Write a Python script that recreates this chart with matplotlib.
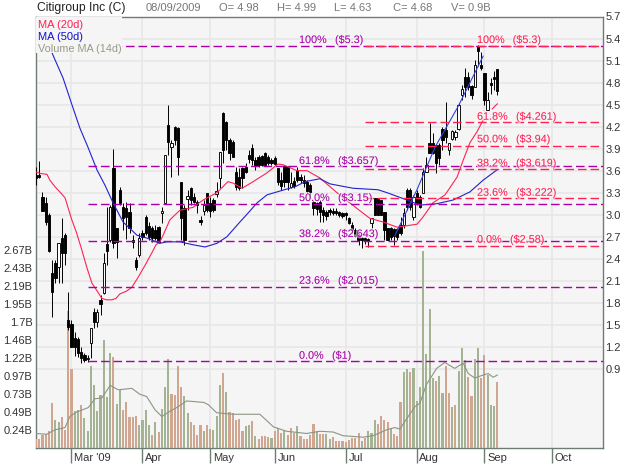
import numpy as np
import matplotlib
matplotlib.use('Agg')
import matplotlib.pyplot as plt
from matplotlib.patches import Rectangle
from matplotlib.transforms import ScaledTranslation
import matplotlib.patheffects as pe

plt.rcParams['font.family'] = ['Liberation Sans', 'DejaVu Sans']

opens = [3.54,3.54,3.24,3.16,3.00,2.21,2.34,2.29,2.68,2.72,
 1.57,1.51,1.32,1.31,1.13,1.09,1.03,1.25,1.67,1.54,
 1.84,1.93,2.60,2.66,3.64,2.82,3.34,3.10,3.09,3.04,
 2.66,2.38,2.45,2.75,2.97,2.85,2.82,2.79,2.83,3.02,
 3.16,4.22,3.92,4.19,4.18,3.45,3.09,3.21,3.36,3.24,
 3.17,2.93,3.05,3.30,3.16,3.20,3.28,3.50,4.39,4.26,
 4.02,3.99,3.58,3.51,3.64,3.65,3.81,3.91,3.74,3.79,
 3.80,3.84,3.79,3.74,3.77,3.64,3.47,3.66,3.65,3.38,
 3.46,3.61,3.51,3.47,3.45,3.40,3.17,3.16,3.17,3.06,
 3.04,3.06,3.05,3.05,3.04,3.02,3.02,2.95,2.86,2.79,
 2.72,2.68,2.68,2.67,2.89,3.23,3.23,3.20,3.04,2.82,
 2.82,2.80,2.80,2.86,2.86,3.34,3.34,2.97,3.30,3.24,
 3.30,3.58,3.98,3.98,3.95,3.95,4.17,4.15,3.88,4.03,
 4.06,4.17,4.63,4.88,4.88,4.75,4.74,5.30,5.04,4.93,
 4.43,4.79,4.88,4.98]
closes = [3.50,3.51,3.05,2.90,2.50,1.95,2.14,2.61,2.48,2.48,
 1.47,1.20,1.20,1.11,1.05,1.02,1.05,1.46,1.54,1.67,
 1.78,2.34,2.50,3.10,2.61,2.63,3.16,2.95,2.97,2.82,
 2.63,2.29,2.68,2.70,2.75,2.70,2.68,2.68,2.63,3.05,
 3.81,3.99,3.98,4.02,3.79,2.95,2.66,3.25,3.20,3.17,
 3.13,2.90,3.13,3.06,3.05,3.06,3.32,3.85,3.88,4.02,
 3.84,3.79,3.38,3.36,3.50,3.58,3.76,3.74,3.66,3.68,
 3.68,3.68,3.70,3.70,3.69,3.45,3.39,3.45,3.45,3.43,
 3.39,3.47,3.47,3.43,3.32,3.31,3.09,3.08,3.04,3.00,
 2.98,3.04,3.02,3.02,3.00,2.98,3.00,2.89,2.79,2.71,
 2.66,2.66,2.66,2.64,2.95,3.00,3.00,3.00,2.79,2.66,
 2.70,2.71,2.70,2.75,3.02,3.10,3.10,3.24,3.16,3.10,
 3.58,3.68,3.84,3.84,3.70,3.77,4.02,4.06,3.98,4.14,
 4.13,4.49,4.71,4.74,4.74,4.63,5.04,5.23,5.00,4.56,
 4.56,4.77,4.85,4.68]
highs = [3.65,3.73,3.31,3.24,3.02,2.38,2.38,2.61,2.95,2.75,
 1.95,1.57,1.40,1.33,1.20,1.11,1.09,1.46,1.73,1.72,
 1.91,2.48,3.10,3.13,3.90,2.82,3.38,3.16,3.17,3.16,
 2.72,2.42,2.75,2.79,3.00,2.90,2.85,2.86,2.85,3.10,
 3.81,4.49,4.02,4.21,4.19,3.45,3.13,3.34,3.38,3.30,
 3.20,2.98,3.20,3.30,3.24,3.23,3.45,3.85,4.40,4.28,
 4.05,4.02,3.65,3.64,3.65,3.70,3.88,3.96,3.79,3.81,
 3.81,3.85,3.81,3.77,3.80,3.64,3.58,3.66,3.66,3.58,
 3.51,3.65,3.55,3.54,3.47,3.43,3.20,3.17,3.20,3.10,
 3.06,3.09,3.09,3.09,3.05,3.04,3.04,2.97,2.90,2.82,
 2.75,2.70,2.70,2.68,2.95,3.23,3.23,3.20,3.04,2.82,
 2.83,2.82,2.82,2.97,3.09,3.36,3.36,3.27,3.34,3.27,
 3.64,3.79,4.25,4.11,3.95,3.98,4.19,4.53,3.98,4.15,
 4.15,4.52,4.77,5.00,4.94,4.77,5.11,5.31,5.22,4.93,
 4.67,4.86,4.96,4.99]
lows = [3.40,3.50,3.05,2.86,2.49,1.61,2.07,2.07,2.07,2.31,
 1.43,1.20,1.07,1.06,.98,.99,.99,1.05,1.46,1.47,
 1.63,1.92,2.31,2.63,2.55,2.41,3.13,2.79,2.67,2.75,
 2.55,2.25,2.42,2.66,2.72,2.66,2.63,2.66,2.61,2.89,
 3.16,3.81,3.51,3.95,3.54,2.66,2.59,3.06,3.13,3.16,
 3.02,2.86,3.00,3.04,2.97,3.04,3.24,3.36,3.70,3.88,
 3.74,3.79,3.34,3.34,3.36,3.57,3.70,3.68,3.61,3.65,
 3.66,3.66,3.68,3.68,3.68,3.40,3.34,3.38,3.34,3.36,
 3.36,3.45,3.43,3.38,3.30,3.23,3.00,3.00,2.90,2.90,
 2.93,3.00,3.00,3.00,2.97,2.95,2.93,2.87,2.75,2.70,
 2.59,2.55,2.60,2.56,2.82,3.00,3.00,3.00,2.66,2.66,
 2.66,2.59,2.66,2.72,2.82,3.06,3.06,2.93,3.13,3.09,
 3.30,3.58,3.84,3.83,3.57,3.68,3.88,3.98,3.81,4.02,
 4.02,4.15,4.56,4.60,4.70,4.58,4.74,5.03,4.97,4.49,
 4.43,4.64,4.70,4.63]

volumes = [.13,.13,.18,.19,.23,.61,.38,.36,.42,.25,
 1.85,1.07,.50,.52,.59,.41,.23,1.11,.86,.50,
 .72,1.46,.69,1.29,1.23,.60,.79,.52,.63,.42,
 .42,.44,.32,.38,.52,.32,.18,.35,.22,.53,
 .83,1.21,.73,.72,1.11,.83,.71,.48,.36,.32,
 .18,.32,.23,.32,.26,.25,.43,.86,1.02,.76,
 .49,.48,.38,.40,.23,.30,.32,.37,.17,.13,
 .17,.17,.15,.14,.23,.27,.21,.23,.18,.27,
 .21,.30,.17,.13,.13,.18,.33,.23,.20,.20,
 .20,.13,.15,.10,.10,.10,.08,.11,.14,.14,
 .21,.10,.14,.23,.21,.38,.33,.44,.38,.36,
 .27,.20,.17,.62,1.03,1.07,1.03,1.09,.64,.83,
 2.67,1.27,1.88,.95,.91,.98,.75,1.11,.75,.56,
 .59,1.05,1.36,1.19,.97,.71,1.21,1.36,.95,1.26,
 .99,.59,.57,.90]
vol_dirs = ("RRRRRRGGRR" "RRGGRGGGGG" "GGGGRGGRRR" "RRGGGGRGRG" "GGRRRRGGRR"
            "RRGRRGGGRG" "RRRRRGGRGR" "RRRGRRRGRR" "RGRRRRRGRR" "GGRRRRRRRR"
            "RGRGGGRRRR" "GRRRGGRGGG" "GGGGRGGRRG" "RGGGRRGGRR" "GGGR")

ma20_i = [0,1.5,3.4,4.3,5.9,7.4,9,11.1,12.6,14.2,15.7,17.3,18.8,20.4,21.9,23.5,24.8,26,28.1,29.7,
 31.7,33.8,35.9,37.2,38.4,39.4,41.5,44.6,48.7,51.8,56.1,59.5,61.1,63.9,67.3,71.6,75,76.6,80.9,84,
 88,93.3,97.3,101.4,103.5,107.6,111.9,118.1,120,123,126.8,130.5,132.4,134.5,136.7,138.6,140,141.4,143]
ma20 = [3.58,3.56,3.55,3.47,3.38,3.31,3.23,2.93,2.75,2.52,2.29,2.07,1.97,1.86,1.84,1.84,1.86,1.92,1.96,2.01,
 2.15,2.31,2.48,2.59,2.63,2.72,2.93,3.06,3.10,3.20,3.30,3.45,3.43,3.36,3.45,3.57,3.69,3.68,3.60,3.60,
 3.50,3.30,3.16,3.02,2.95,2.90,2.83,2.87,2.97,3.16,3.27,3.51,3.74,3.98,4.13,4.29,np.nan,4.44,4.51]

ma50_i = [0.6,5.3,8.4,11.2,13.6,16.1,18.9,21.4,23.9,27,31.3,34.4,38.4,40.6,44.6,48.7,52.4,56.1,59.2,63.2,
 65.7,68.5,71.6,74.7,77.8,80.3,83.4,88,91.1,98.3,106,108.8,115,119,124.3,129.3,134.5,138.6,142.9]
ma50 = [5.69,5.17,4.86,4.49,4.18,3.92,3.61,3.40,3.16,2.90,2.72,2.68,2.61,2.63,2.63,2.59,2.56,2.61,2.70,2.90,
 3.02,3.16,3.27,3.31,3.35,3.38,3.45,3.49,3.42,3.36,3.34,3.30,3.20,3.13,3.15,3.20,3.31,3.47,3.61]

trend_i = [111.3,118.1,123.7,130.8,138.6]
trend = [2.72,3.34,3.92,4.47,5.16]

vma_i = [0,3.3,5.9,9,10.5,12.6,16.2,18.3,20.4,23,25.5,29.7,32.2,34.3,36.9,39,41.5,43.6,46.7,52,53.4,56,61.2,66.3,69.4,
 73.6,77.7,83.9,88,92.1,95.2,101.4,104.5,108.7,111.2,112.8,114.3,117.4,119,121,124.2,126.7,129.8,132.4,134,136,138.6,140.2,141.7,143]
vma = [.20,.19,.25,.28,.43,.49,.55,.67,.68,.85,.79,.81,.73,.70,.52,.43,.50,.55,.64,.62,.59,.48,.46,.46,.46,
 .29,.23,.20,.23,.22,.17,.15,.17,.25,.28,.26,.36,.56,.61,.86,1.08,1.16,1.08,1.15,1.01,.95,.99,1.01,.96,.99]

price_ticks = [0.9,1.2,1.5,1.8,2.1,2.4,2.7,3.0,3.3,3.6,3.9,4.2,4.5,4.8,5.1,5.4,5.7]
price_labels = ['0.9','1.2','1.5','1.8','2.1','2.4','2.7','3.0','3.3','3.6','3.9','4.2','4.5','4.8','5.1','5.4','5.7']
vol_ticks = [0.2433,0.4867,0.73,0.9733,1.2167,1.46,1.7033,1.9467,2.19,2.4333,2.6767]
vol_labels = ['0.24B','0.49B','0.73B','0.97B','1.22B','1.46B','1.7B','1.95B','2.19B','2.43B','2.67B']
month_pos = [11,33,54,74,96,118,139,160]
month_labels = ["Mar '09",'Apr','May','Jun','Jul','Aug','Sep','Oct']

fib_purple = [5.3,3.657,3.15,2.643,2.015,1.0]
fib_purple_pct = ['100%','61.8%','50.0%','38.2%','23.6%','0.0%']
fib_purple_val = ['($5.3)','($3.657)','($3.15)','($2.643)','($2.015)','($1)']
fib_red = [5.3,4.261,3.94,3.619,3.222,2.58]
fib_red_pct = ['100%','61.8%','50.0%','38.2%','23.6%','0.0%']
fib_red_val = ['($5.3)','($4.261)','($3.94)','($3.619)','($3.222)','($2.58)']

W, H = 640, 467
L, R, T, B = 35.5, 602.5, 16.5, 448.3
PITCH, X0 = 3.226, 36.0
PX_PER_PRICE, PX_PER_VOL = 73.4, 74.0
FRAME = '#6d7d72'
TXT = '#333333'
PURPLE = '#aa00aa'
RED = '#ff2255'

fig = plt.figure(figsize=(6.4, 4.67), dpi=100, facecolor='white')
rect = [L/W, 1-B/H, (R-L)/W, (B-T)/H]
base = fig.add_axes(rect, facecolor='#f5f5f5', zorder=1)
xlim = ((L-X0)/PITCH, (R-X0)/PITCH)
ylim = (5.7-(B-T)/PX_PER_PRICE, 5.7)
base.set_xlim(xlim); base.set_ylim(ylim)
for s in base.spines.values():
    s.set_color(FRAME); s.set_linewidth(1.0)

# grid + axes
base.set_axisbelow(True)
base.set_yticks(price_ticks); base.set_yticklabels(price_labels)
base.yaxis.tick_right()
base.tick_params(axis='y', length=0, pad=2.2, labelsize=8, labelcolor=TXT)
base.set_xticks(month_pos); base.set_xticklabels(month_labels)
base.tick_params(axis='x', length=11, width=1, color=FRAME, pad=-7.5, labelsize=8, labelcolor=TXT)
offs = ScaledTranslation(2/72, 0, fig.dpi_scale_trans)
for lab in base.get_xticklabels():
    lab.set_horizontalalignment('left')
    lab.set_transform(lab.get_transform() + offs)
base.grid(True, color='#e7e7e7', linewidth=1.2)

# volume
axv = fig.add_axes(rect, facecolor='none', zorder=2, sharex=base)
axv.set_ylim(0, (B-T)/PX_PER_VOL)
for s in axv.spines.values():
    s.set_visible(False)
axv.set_yticks(vol_ticks); axv.set_yticklabels(vol_labels)
axv.tick_params(axis='y', length=0, pad=2.2, labelsize=8, labelcolor=TXT)
axv.tick_params(axis='x', length=0, labelbottom=False)
idx = np.arange(len(volumes))
vcols = ['#a3b394' if d == 'G' else '#d0a690' for d in vol_dirs]
axv.bar(idx, volumes, width=0.66, color=vcols, linewidth=0)
axv.plot(vma_i, vma, color='#8b9684', lw=0.8)

# price
axp = fig.add_axes(rect, facecolor='none', zorder=3, sharex=base)
axp.set_ylim(ylim)
for s in axp.spines.values():
    s.set_visible(False)
axp.tick_params(left=False, bottom=False, labelleft=False, labelbottom=False)
o, c, h, l = map(np.array, (opens, closes, highs, lows))
axp.vlines(idx, l, h, color='black', lw=0.7, zorder=3)
up = c > o
axp.bar(idx, np.maximum(np.abs(c-o), 0.012), bottom=np.minimum(o, c), width=0.72,
        color=['white' if u else 'black' for u in up], edgecolor='black', linewidth=0.65, zorder=4)
axp.plot(ma20_i, ma20, color=RED, lw=0.8, zorder=5)
axp.plot(ma50_i, ma50, color='#2222cc', lw=0.8, zorder=5)
axp.plot(trend_i, trend, color='#3344dd', lw=0.8, zorder=5)

dash = (0, (6.2, 2.8))
fib_l = (87.5-X0)/PITCH
fib_r = (365-X0)/PITCH
axp.hlines(fib_purple, fib_l, xlim[1], color=PURPLE, lw=1.0, linestyles=[dash], zorder=6)
axp.hlines(fib_red, fib_r, xlim[1], color=RED, lw=1.0, linestyles=[dash], zorder=6)

# legend block hides what runs beneath it
fig.add_artist(Rectangle((36.2/W, 1-53/H), 86/W, 36/H, transform=fig.transFigure,
                         facecolor='#f5f5f5', edgecolor='none', zorder=8))
def put(x, y, s, color, size=8, **kw):
    return fig.text(x/W, 1-y/H, s, color=color, fontsize=size, va='center', ha='left', zorder=10, **kw)
put(38.5, 25, 'MA (20d)', RED)
put(38.5, 37, 'MA (50d)', '#1111cc')
put(38.5, 49, 'Volume MA (14d)', '#99998a', size=7.8)

# header
put(37, 8, 'Citigroup Inc (C)', '#222222', size=8.7)
for x, s in [(146, '08/09/2009'), (219, 'O= 4.98'), (277, 'H= 4.99'),
             (334.5, 'L= 4.63'), (393, 'C= 4.68'), (451, 'V= 0.9B')]:
    put(x, 8, s, '#777777', size=8)

halo = [pe.withStroke(linewidth=2, foreground='#f5f5f5', alpha=0.6)]
purple_y = [40, 161, 198, 234, 280.7, 355.7]
purple_x = [335, 338, 338, 338, 338, 332]
for y, xv, a, b in zip(purple_y, purple_x, fib_purple_pct, fib_purple_val):
    put(299, y, a, PURPLE, size=7.8, path_effects=halo)
    put(xv, y, b, PURPLE, size=7.8, path_effects=halo)
red_y = [40, 116.7, 139.3, 163.3, 192.7, 239.7]
red_x = [512.7, 516, 516, 516, 516, 510]
for y, xv, a, b in zip(red_y, red_x, fib_red_pct, fib_red_val):
    put(477, y, a, RED, size=7.8, path_effects=halo)
    put(xv, y, b, RED, size=7.8, path_effects=halo)

fig.savefig('out.png', dpi=100, facecolor='white')
